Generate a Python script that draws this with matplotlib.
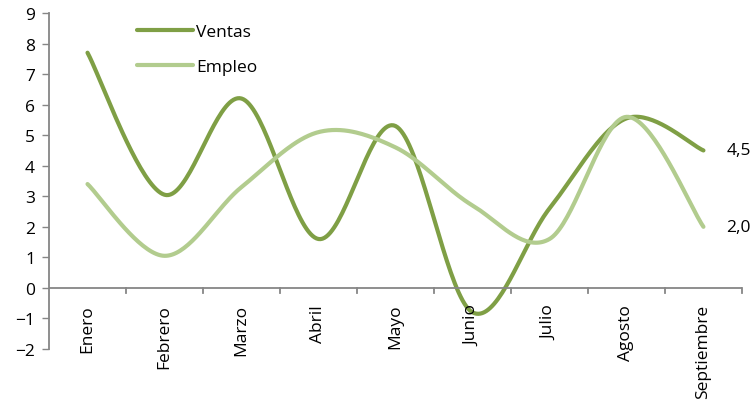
import numpy as np
import matplotlib
matplotlib.use('Agg')
import matplotlib.pyplot as plt

plt.rcParams['font.family'] = ['Open Sans', 'DejaVu Sans']

meses = ['Enero', 'Febrero', 'Marzo', 'Abril', 'Mayo', 'Junio', 'Julio', 'Agosto', 'Septiembre']
ventas = [7.7, 3.05, 6.2, 1.6, 5.3, -0.8, 2.6, 5.55, 4.5]
empleo = [3.4, 1.05, 3.3, 5.1, 4.6, 2.7, 1.6, 5.6, 2.0]

COL_VENTAS = '#7F9F45'
COL_EMPLEO = '#B2CC8E'
FS = 12.5


def suavizar(y, n=40):
    # curva tipo Excel (Catmull-Rom por segmentos)
    y = np.asarray(y, dtype=float)
    x = np.arange(len(y), dtype=float)
    px = np.concatenate([[x[0]], x, [x[-1]]])
    py = np.concatenate([[y[0]], y, [y[-1]]])
    xs, ys = [], []
    t = np.linspace(0, 1, n)
    for i in range(1, len(px) - 2):
        p0, p1, p2, p3 = px[i-1:i+3]
        q0, q1, q2, q3 = py[i-1:i+3]
        c1x, c1y = p1 + (p2 - p0) / 6, q1 + (q2 - q0) / 6
        c2x, c2y = p2 - (p3 - p1) / 6, q2 - (q3 - q1) / 6
        bx = (1-t)**3*p1 + 3*(1-t)**2*t*c1x + 3*(1-t)*t**2*c2x + t**3*p2
        by = (1-t)**3*q1 + 3*(1-t)**2*t*c1y + 3*(1-t)*t**2*c2y + t**3*q2
        xs.append(bx)
        ys.append(by)
    return np.concatenate(xs), np.concatenate(ys)


fig = plt.figure(figsize=(7.54, 4.06), dpi=100)
ax = fig.add_axes([0.065, 0.138, 0.919, 0.8275])

xv, yv = suavizar(ventas)
xe, ye = suavizar(empleo)
ax.plot(xv, yv, color=COL_VENTAS, lw=3, label='Ventas', solid_capstyle='round')
ax.plot(xe, ye, color=COL_EMPLEO, lw=3, label='Empleo', solid_capstyle='round')

ax.set_xlim(-0.5, len(meses) - 0.5)
ax.set_ylim(-2, 9)
ax.set_yticks(range(-2, 10))
ax.tick_params(axis='y', labelsize=FS, length=5, width=1, color='#868686', pad=5)

for s in ['top', 'right', 'bottom']:
    ax.spines[s].set_visible(False)
ax.spines['left'].set_color('#868686')
ax.spines['left'].set_linewidth(1.3)

# eje x en cero
ax.axhline(0, color='#868686', lw=1.3)
ax.set_xticks([])
for b in np.arange(0.5, len(meses), 1.0):
    ax.plot([b, b], [0, -0.17], color='#868686', lw=1.3, clip_on=False)
for i, m in enumerate(meses):
    ax.text(i, -0.52, m, rotation=90, ha='center', va='top', fontsize=FS)

ax.text(len(meses) - 0.7, ventas[-1], f'{ventas[-1]:.1f}'.replace('.', ','),
        va='center', ha='left', fontsize=FS)
ax.text(len(meses) - 0.7, empleo[-1], f'{empleo[-1]:.1f}'.replace('.', ','),
        va='center', ha='left', fontsize=FS)

ax.legend(loc='upper left', bbox_to_anchor=(0.105, 1.014), frameon=False, fontsize=FS,
          handlelength=3.2, handletextpad=0.2, labelspacing=1.1)

fig.savefig('out.png', dpi=100)
